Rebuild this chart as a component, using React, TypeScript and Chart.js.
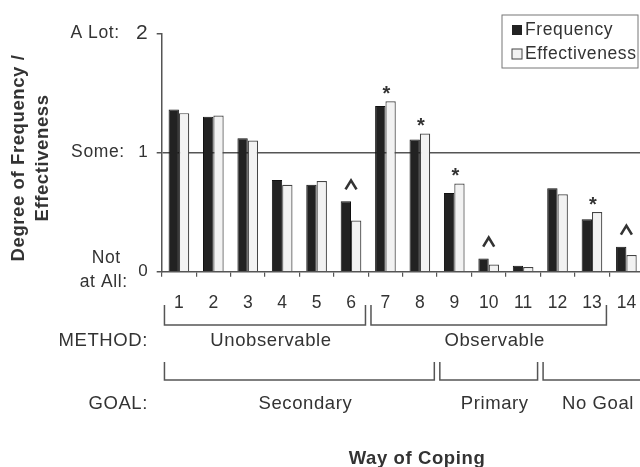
import React, { useEffect, useRef } from 'react';
import { Chart, registerables } from 'chart.js';

Chart.register(...registerables);

const categories = ['1', '2', '3', '4', '5', '6', '7', '8', '9', '10', '11', '12', '13', '14'];
const frequency = [1.36, 1.3, 1.12, 0.77, 0.73, 0.59, 1.39, 1.11, 0.66, 0.11, 0.05, 0.7, 0.44, 0.21];
const effectiveness = [1.33, 1.31, 1.1, 0.73, 0.76, 0.43, 1.43, 1.16, 0.74, 0.06, 0.04, 0.65, 0.5, 0.14];
const markers = ['', '', '', '', '', '^', '*', '*', '*', '^', '', '', '*', '^'];
const seriesNames = ['Frequency', 'Effectiveness'];
const yTickValues = [0, 1, 2];
const yWordLabels = [['Not', 'at All:'], ['Some:'], ['A Lot:']];
const methodGroups = [
  { label: 'Unobservable', from: 1, to: 6 },
  { label: 'Observable', from: 7, to: 13 },
];
const goalGroups = [
  { label: 'Secondary', from: 1, to: 8 },
  { label: 'Primary', from: 9, to: 11 },
  { label: 'No Goal', from: 12, to: 14 },
];
const yTitle = ['Degree of Frequency /', 'Effectiveness'];
const xTitle = 'Way of Coping';

const FONT = '"Liberation Sans", Arial, Helvetica, sans-serif';
const TEXT = '#333';
const LINE = '#555';
const DARK = '#222';
const LIGHT = '#f2f2f2';

function spacing(ctx: any, v: string) {
  try { ctx.letterSpacing = v; } catch (e) { /* ignore */ }
}

const decorPlugin = {
  id: 'decor',
  afterDatasetsDraw(chart: any) {
    const ctx = chart.ctx;
    const xs = chart.scales.x;
    const m0 = chart.getDatasetMeta(0);
    const m1 = chart.getDatasetMeta(1);
    ctx.save();
    ctx.fillStyle = TEXT;
    ctx.strokeStyle = TEXT;
    ctx.textAlign = 'center';
    ctx.textBaseline = 'alphabetic';
    markers.forEach((mk, i) => {
      if (!mk) return;
      const top = Math.min(m0.data[i].y, m1.data[i].y);
      const cx = xs.getPixelForValue(i);
      if (mk === '*') {
        ctx.font = `bold 20px ${FONT}`;
        ctx.fillText('*', cx + 1, top - 1);
      } else {
        const by = top - 12;
        ctx.lineWidth = 2.6;
        ctx.lineJoin = 'miter';
        ctx.beginPath();
        ctx.moveTo(cx - 5.5, by);
        ctx.lineTo(cx, by - 9);
        ctx.lineTo(cx + 5.5, by);
        ctx.stroke();
      }
    });
    ctx.restore();
  },
  afterDraw(chart: any) {
    const ctx = chart.ctx;
    const xs = chart.scales.x;
    const ys = chart.scales.y;
    const area = chart.chartArea;
    ctx.save();
    spacing(ctx, '0.6px');
    ctx.fillStyle = TEXT;

    // y word labels
    ctx.font = `17.5px ${FONT}`;
    ctx.textAlign = 'right';
    ctx.textBaseline = 'middle';
    yTickValues.forEach((v, i) => {
      const py = ys.getPixelForValue(v);
      const lines = yWordLabels[i];
      if (lines.length === 1) {
        ctx.fillText(lines[0], area.left - (v === 2 ? 42 : 37), py);
      } else {
        ctx.fillText(lines[0], area.left - 41, py - 14);
        ctx.fillText(lines[1], area.left - 34, py + 10);
      }
    });

    // y title
    ctx.font = `bold 18.5px ${FONT}`;
    ctx.textAlign = 'center';
    ctx.textBaseline = 'middle';
    const ty = 158;
    [19, 43].forEach((tx, i) => {
      ctx.save();
      ctx.translate(tx, ty);
      ctx.rotate(-Math.PI / 2);
      ctx.fillText(yTitle[i], 0, 0);
      ctx.restore();
    });

    // brackets
    const half = 0.42;
    const drawRow = (groups: any[], topY: number, botY: number, labelY: number, rowLabel: string) => {
      ctx.strokeStyle = LINE;
      ctx.lineWidth = 1.5;
      groups.forEach((g) => {
        const x1 = xs.getPixelForValue(g.from - 1 - half);
        const x2 = xs.getPixelForValue(g.to - 1 + half);
        ctx.beginPath();
        ctx.moveTo(x1, topY);
        ctx.lineTo(x1, botY);
        ctx.lineTo(x2, botY);
        ctx.lineTo(x2, topY);
        ctx.stroke();
        const cx = xs.getPixelForValue((g.from + g.to) / 2 - 1);
        ctx.font = `18.5px ${FONT}`;
        ctx.textAlign = 'center';
        ctx.textBaseline = 'middle';
        ctx.fillText(g.label, cx + 6, labelY);
      });
      ctx.font = `18.5px ${FONT}`;
      ctx.textAlign = 'right';
      ctx.fillText(rowLabel, 148, labelY);
    };
    drawRow(methodGroups, 305, 325, 341, 'METHOD:');
    drawRow(goalGroups, 362, 380, 404, 'GOAL:');

    // x title
    ctx.font = `bold 18.5px ${FONT}`;
    ctx.textAlign = 'center';
    ctx.textBaseline = 'middle';
    ctx.fillText(xTitle, 417, 459);

    // legend
    ctx.strokeStyle = '#777';
    ctx.lineWidth = 1;
    ctx.strokeRect(502, 15, 136, 53);
    ctx.fillStyle = DARK;
    ctx.fillRect(512, 25, 10, 10);
    ctx.fillStyle = LIGHT;
    ctx.fillRect(512, 49, 10, 10);
    ctx.strokeStyle = '#444';
    ctx.strokeRect(512, 49, 10, 10);
    ctx.fillStyle = TEXT;
    ctx.font = `17.5px ${FONT}`;
    ctx.textAlign = 'left';
    ctx.textBaseline = 'middle';
    ctx.fillText(seriesNames[0], 525, 30);
    ctx.fillText(seriesNames[1], 525, 54);
    ctx.restore();
  },
};

export default function App() {
  const ref = useRef<HTMLCanvasElement | null>(null);
  useEffect(() => {
    if (!ref.current) return;
    const chart = new Chart(ref.current, {
      type: 'bar',
      data: {
        labels: categories,
        datasets: [
          {
            label: seriesNames[0],
            data: frequency,
            backgroundColor: DARK,
            borderColor: '#111',
            borderWidth: 1,
            categoryPercentage: 0.6,
            barPercentage: 1,
          },
          {
            label: seriesNames[1],
            data: effectiveness,
            backgroundColor: LIGHT,
            borderColor: '#444',
            borderWidth: 1.2,
            categoryPercentage: 0.6,
            barPercentage: 1,
          },
        ],
      },
      options: {
        animation: false,
        responsive: false,
        maintainAspectRatio: false,
        layout: { padding: { top: 33.3, right: 16.4, left: 0, bottom: 0 } },
        plugins: {
          legend: { display: false },
          title: { display: false },
          tooltip: { enabled: false },
        },
        scales: {
          x: {
            grid: {
              offset: true,
              drawOnChartArea: false,
              drawTicks: true,
              tickLength: 5,
              color: LINE,
              lineWidth: 1.2,
            },
            border: { display: true, color: LINE, width: 1.5 },
            ticks: {
              color: TEXT,
              font: { family: FONT, size: 17.5 },
              padding: 16,
              maxRotation: 0,
              autoSkip: false,
            },
            afterFit: (s: any) => {
              s.height = 467 - 271.7;
            },
          },
          y: {
            min: 0,
            max: 2,
            afterFit: (s: any) => {
              s.width = 161.7;
            },
            ticks: {
              stepSize: 1,
              color: TEXT,
              font: (c: any) => ({ family: FONT, size: c.tick && c.tick.value === 2 ? 21 : 17 }),
              padding: 9,
            },
            grid: {
              color: (c: any) => (c.tick && c.tick.value === 1 ? LINE : 'rgba(0,0,0,0)'),
              tickColor: LINE,
              tickLength: 5,
              lineWidth: 1.5,
            },
            border: { display: true, color: LINE, width: 1.5 },
          },
        },
      } as any,
      plugins: [decorPlugin],
    });
    return () => chart.destroy();
  }, []);
  return (
    <div
      style={{
        position: 'fixed',
        left: 0,
        top: 0,
        width: 640,
        height: 467,
        overflow: 'hidden',
        background: '#fff',
      }}
    >
      <canvas ref={ref} width={660} height={467} style={{ display: 'block', width: 660, height: 467 }} />
    </div>
  );
}
